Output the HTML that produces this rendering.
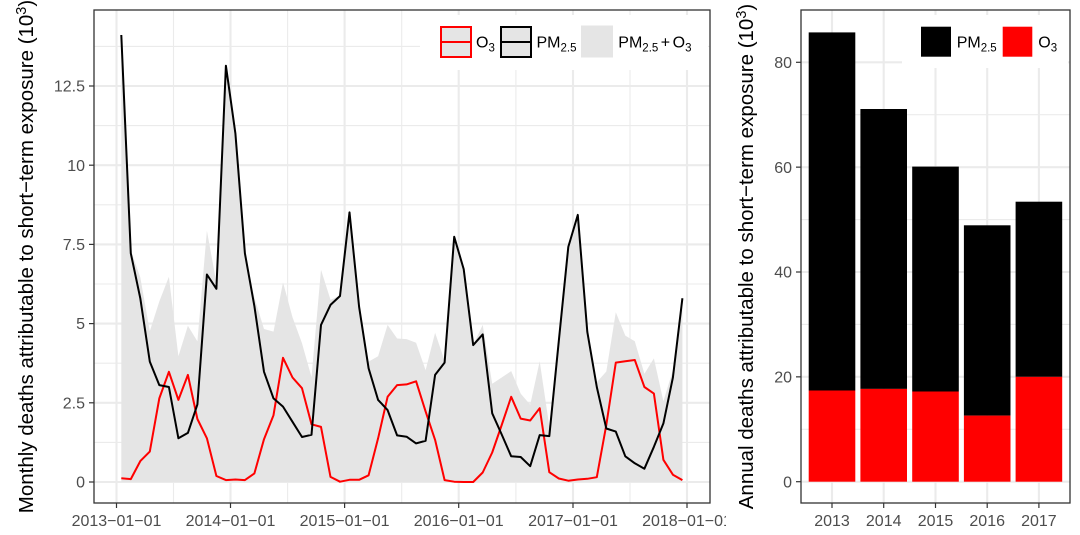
<!DOCTYPE html>
<html>
<head>
<meta charset="utf-8">
<style>
  html, body { margin: 0; padding: 0; background: #ffffff; }
  svg { display: block; }
  text { font-family: "Liberation Sans", Arial, sans-serif; }
</style>
</head>
<body>
<svg width="1080" height="535" viewBox="0 0 1080 535" xmlns="http://www.w3.org/2000/svg">
  <rect x="0" y="0" width="1080" height="535" fill="#ffffff"/>
  <defs>
    <clipPath id="leftclip"><rect x="0" y="0" width="726" height="535"/></clipPath>
    <clipPath id="lpanel"><rect x="94" y="10" width="616" height="493"/></clipPath>
    <clipPath id="rpanel"><rect x="801" y="10" width="269" height="493"/></clipPath>
  </defs>

  <!-- ================= LEFT PANEL ================= -->
  <g clip-path="url(#leftclip)">
    <g clip-path="url(#lpanel)">
      <rect x="94" y="10" width="616" height="493" fill="#ffffff"/>
      <!-- minor grid -->
      <g stroke="#ebebeb" stroke-width="1.1" fill="none">
        <line x1="94" x2="710" y1="442.4" y2="442.4"/>
        <line x1="94" x2="710" y1="363.2" y2="363.2"/>
        <line x1="94" x2="710" y1="284.0" y2="284.0"/>
        <line x1="94" x2="710" y1="204.8" y2="204.8"/>
        <line x1="94" x2="710" y1="125.6" y2="125.6"/>
        <line x1="94" x2="710" y1="46.4" y2="46.4"/>
        <line y1="10" y2="503" x1="173.5" x2="173.5"/>
        <line y1="10" y2="503" x1="287.6" x2="287.6"/>
        <line y1="10" y2="503" x1="401.7" x2="401.7"/>
        <line y1="10" y2="503" x1="515.9" x2="515.9"/>
        <line y1="10" y2="503" x1="630.0" x2="630.0"/>
      </g>
      <!-- major grid -->
      <g stroke="#ebebeb" stroke-width="2.1" fill="none">
        <line x1="94" x2="710" y1="482" y2="482"/>
        <line x1="94" x2="710" y1="402.8" y2="402.8"/>
        <line x1="94" x2="710" y1="323.6" y2="323.6"/>
        <line x1="94" x2="710" y1="244.4" y2="244.4"/>
        <line x1="94" x2="710" y1="165.2" y2="165.2"/>
        <line x1="94" x2="710" y1="86.0" y2="86.0"/>
        <line y1="10" y2="503" x1="116.5" x2="116.5"/>
        <line y1="10" y2="503" x1="230.5" x2="230.5"/>
        <line y1="10" y2="503" x1="344.6" x2="344.6"/>
        <line y1="10" y2="503" x1="458.7" x2="458.7"/>
        <line y1="10" y2="503" x1="573.0" x2="573.0"/>
        <line y1="10" y2="503" x1="687.0" x2="687.0"/>
      </g>

      <!-- sum area -->
      <polygon fill="#e5e5e5" stroke="none" points="121.3,482 121.3,31.2 130.8,250.4 140.3,277.4 149.8,331.2 159.3,301.5 168.9,276.8 178.4,356.2 187.9,325.8 197.4,341.4 206.9,230.8 216.4,282.8 225.9,63.8 235.4,131.0 244.9,251.4 254.4,297.6 264.0,329.0 273.5,331.6 283.0,282.4 292.5,317.3 302.0,343.2 311.5,377.1 321.0,269.8 330.5,299.8 340.0,295.7 349.5,210.2 359.1,304.6 368.6,361.6 378.1,356.2 387.6,324.9 397.1,338.5 406.6,339.1 416.1,342.7 425.6,370.2 435.1,332.8 444.6,360.7 454.2,236.5 463.7,269.1 473.2,345.1 482.7,324.9 492.2,383.8 501.7,377.5 511.2,371.1 520.7,393.6 530.2,404.7 539.7,361.3 549.3,426.3 558.8,337.5 568.3,245.6 577.8,212.4 587.3,328.6 596.8,382.2 606.3,371.5 615.8,312.2 625.3,335.6 634.8,341.3 644.4,373.7 653.9,358.4 663.4,401.2 672.9,370.2 682.4,296.4 682.4,482"/>

      <!-- O3 line -->
      <polyline fill="none" stroke="#ff0000" stroke-width="2" stroke-linejoin="round" points="121.3,478.2 130.8,479.1 140.3,461.1 149.8,451.6 159.3,398.4 168.9,371.8 178.4,399.9 187.9,374.9 197.4,419.0 206.9,438.3 216.4,476.0 225.9,480.1 235.4,479.5 244.9,480.1 254.4,473.4 264.0,439.2 273.5,415.2 283.0,357.8 292.5,377.5 302.0,388.2 311.5,424.3 321.0,426.9 330.5,476.9 340.0,481.7 349.5,479.8 359.1,479.8 368.6,475.3 378.1,438.3 387.6,396.8 397.1,385.1 406.6,384.4 416.1,381.3 425.6,411.4 435.1,439.9 444.6,480.1 454.2,481.7 463.7,482 473.2,482 482.7,472.5 492.2,452.5 501.7,425.0 511.2,396.8 520.7,418.6 530.2,420.5 539.7,408.2 549.3,472.2 558.8,478.5 568.3,480.7 577.8,479.5 587.3,478.8 596.8,477.2 606.3,425.0 615.8,362.6 625.3,361.3 634.8,360.0 644.4,387.0 653.9,393.6 663.4,459.8 672.9,474.7 682.4,480.1"/>

      <!-- PM2.5 line -->
      <polyline fill="none" stroke="#000000" stroke-width="2" stroke-linejoin="round" points="121.3,35.0 130.8,253.3 140.3,298.3 149.8,361.6 159.3,385.1 168.9,387.0 178.4,438.3 187.9,432.9 197.4,404.4 206.9,274.5 216.4,288.8 225.9,65.7 235.4,133.5 244.9,253.3 254.4,306.2 264.0,371.8 273.5,398.4 283.0,406.6 292.5,421.8 302.0,437.0 311.5,434.8 321.0,324.9 330.5,304.9 340.0,296.0 349.5,212.4 359.1,306.8 368.6,368.3 378.1,399.9 387.6,410.1 397.1,435.4 406.6,436.7 416.1,443.4 425.6,440.8 435.1,374.9 444.6,362.6 454.2,236.8 463.7,269.1 473.2,345.1 482.7,334.4 492.2,413.3 501.7,434.5 511.2,456.3 520.7,457.0 530.2,466.2 539.7,435.1 549.3,436.1 558.8,341.0 568.3,246.9 577.8,214.9 587.3,331.8 596.8,387.0 606.3,428.5 615.8,431.6 625.3,456.3 634.8,463.3 644.4,468.7 653.9,446.8 663.4,423.4 672.9,377.5 682.4,298.3"/>

      <!-- legend -->
      <rect x="420" y="15" width="288" height="55" fill="#ffffff"/>
      <rect x="441" y="27" width="30" height="30" fill="#e5e5e5" stroke="#ff0000" stroke-width="2"/>
      <line x1="441" x2="471" y1="42" y2="42" stroke="#ff0000" stroke-width="2"/>
      <rect x="501" y="27" width="30" height="30" fill="#e5e5e5" stroke="#000000" stroke-width="2"/>
      <line x1="501" x2="531" y1="42" y2="42" stroke="#000000" stroke-width="2"/>
      <rect x="581" y="25.5" width="32" height="32" fill="#e5e5e5"/>
      <text x="476" y="47.5" font-size="16" fill="#000">O<tspan font-size="11.5" dy="4">3</tspan></text>
      <text x="536.5" y="47.5" font-size="16" fill="#000">PM<tspan font-size="11.5" dy="4">2.5</tspan></text>
      <text x="618.3" y="47.5" font-size="16" fill="#000">PM<tspan font-size="11.5" dy="4">2.5</tspan><tspan dy="-4" dx="2.5">+</tspan><tspan dx="2.5">O</tspan><tspan font-size="11.5" dy="4">3</tspan></text>
    </g>

    <!-- panel border -->
    <rect x="94" y="10" width="616" height="493" fill="none" stroke="#333333" stroke-width="1.3"/>

    <!-- ticks -->
    <g stroke="#333333" stroke-width="1.2">
      <line x1="89" x2="94" y1="482" y2="482"/>
      <line x1="89" x2="94" y1="402.8" y2="402.8"/>
      <line x1="89" x2="94" y1="323.6" y2="323.6"/>
      <line x1="89" x2="94" y1="244.4" y2="244.4"/>
      <line x1="89" x2="94" y1="165.2" y2="165.2"/>
      <line x1="89" x2="94" y1="86.0" y2="86.0"/>
      <line y1="503" y2="508" x1="116.5" x2="116.5"/>
      <line y1="503" y2="508" x1="230.5" x2="230.5"/>
      <line y1="503" y2="508" x1="344.6" x2="344.6"/>
      <line y1="503" y2="508" x1="458.7" x2="458.7"/>
      <line y1="503" y2="508" x1="573.0" x2="573.0"/>
      <line y1="503" y2="508" x1="687.0" x2="687.0"/>
    </g>
    <g font-size="16" fill="#4d4d4d" text-anchor="end">
      <text x="85" y="487.6">0</text>
      <text x="85" y="408.4">2.5</text>
      <text x="85" y="329.2">5</text>
      <text x="85" y="250.0">7.5</text>
      <text x="85" y="170.8">10</text>
      <text x="85" y="91.6">12.5</text>
    </g>
    <g font-size="16" fill="#4d4d4d" text-anchor="middle">
      <text x="116.5" y="526">2013−01−01</text>
      <text x="230.5" y="526">2014−01−01</text>
      <text x="344.6" y="526">2015−01−01</text>
      <text x="458.7" y="526">2016−01−01</text>
      <text x="573.0" y="526">2017−01−01</text>
      <text x="687.0" y="526">2018−01−01</text>
    </g>
    <!-- y title -->
    <text transform="translate(33,256.5) rotate(-90)" text-anchor="middle" font-size="20.5" fill="#000">Monthly deaths attributable to short−term exposure (10<tspan font-size="14.5" dy="-7">3</tspan><tspan dy="7">)</tspan></text>
  </g>

  <!-- ================= RIGHT PANEL ================= -->
  <g clip-path="url(#rpanel)">
    <rect x="801" y="10" width="269" height="493" fill="#ffffff"/>
    <g stroke="#ebebeb" stroke-width="1.1">
      <line x1="801" x2="1070" y1="429.3" y2="429.3"/>
      <line x1="801" x2="1070" y1="324.4" y2="324.4"/>
      <line x1="801" x2="1070" y1="219.6" y2="219.6"/>
      <line x1="801" x2="1070" y1="114.7" y2="114.7"/>
    </g>
    <g stroke="#ebebeb" stroke-width="2.1">
      <line x1="801" x2="1070" y1="481.7" y2="481.7"/>
      <line x1="801" x2="1070" y1="376.85" y2="376.85"/>
      <line x1="801" x2="1070" y1="272.0" y2="272.0"/>
      <line x1="801" x2="1070" y1="167.15" y2="167.15"/>
      <line x1="801" x2="1070" y1="62.3" y2="62.3"/>
      <line y1="10" y2="503" x1="832.0" x2="832.0"/>
      <line y1="10" y2="503" x1="883.7" x2="883.7"/>
      <line y1="10" y2="503" x1="935.5" x2="935.5"/>
      <line y1="10" y2="503" x1="987.2" x2="987.2"/>
      <line y1="10" y2="503" x1="1038.9" x2="1038.9"/>
    </g>
    <g fill="#000000">
      <rect x="808.7" y="32.4" width="46.6" height="358.1"/>
      <rect x="860.4" y="109.0" width="46.6" height="279.9"/>
      <rect x="912.2" y="166.6" width="46.6" height="224.9"/>
      <rect x="963.9" y="225.3" width="46.6" height="190.3"/>
      <rect x="1015.6" y="201.7" width="46.6" height="175.15"/>
    </g>
    <g fill="#ff0000">
      <rect x="808.7" y="390.5" width="46.6" height="91.2"/>
      <rect x="860.4" y="388.9" width="46.6" height="92.8"/>
      <rect x="912.2" y="391.5" width="46.6" height="90.2"/>
      <rect x="963.9" y="415.6" width="46.6" height="66.1"/>
      <rect x="1015.6" y="376.85" width="46.6" height="104.85"/>
    </g>
    <rect x="902" y="15" width="166" height="53" fill="#ffffff"/>
    <rect x="921" y="26.7" width="30" height="30" fill="#000000"/>
    <rect x="1002.7" y="26.7" width="29.6" height="30" fill="#ff0000"/>
    <text x="956.7" y="47.5" font-size="16" fill="#000">PM<tspan font-size="11.5" dy="4">2.5</tspan></text>
    <text x="1038.3" y="47.5" font-size="16" fill="#000">O<tspan font-size="11.5" dy="4">3</tspan></text>
  </g>
  <rect x="801" y="10" width="269" height="493" fill="none" stroke="#333333" stroke-width="1.3"/>
  <g stroke="#333333" stroke-width="1.2">
    <line x1="796" x2="801" y1="481.7" y2="481.7"/>
    <line x1="796" x2="801" y1="376.85" y2="376.85"/>
    <line x1="796" x2="801" y1="272.0" y2="272.0"/>
    <line x1="796" x2="801" y1="167.15" y2="167.15"/>
    <line x1="796" x2="801" y1="62.3" y2="62.3"/>
    <line y1="503" y2="508" x1="832.0" x2="832.0"/>
    <line y1="503" y2="508" x1="883.7" x2="883.7"/>
    <line y1="503" y2="508" x1="935.5" x2="935.5"/>
    <line y1="503" y2="508" x1="987.2" x2="987.2"/>
    <line y1="503" y2="508" x1="1038.9" x2="1038.9"/>
  </g>
  <g font-size="16" fill="#4d4d4d" text-anchor="end">
    <text x="792" y="487.3">0</text>
    <text x="792" y="382.45">20</text>
    <text x="792" y="277.6">40</text>
    <text x="792" y="172.75">60</text>
    <text x="792" y="67.9">80</text>
  </g>
  <g font-size="16" fill="#4d4d4d" text-anchor="middle">
    <text x="832.0" y="526">2013</text>
    <text x="883.7" y="526">2014</text>
    <text x="935.5" y="526">2015</text>
    <text x="987.2" y="526">2016</text>
    <text x="1038.9" y="526">2017</text>
  </g>
  <text transform="translate(753,256.5) rotate(-90)" text-anchor="middle" font-size="20.5" fill="#000">Annual deaths attributable to short−term exposure (10<tspan font-size="14.5" dy="-7">3</tspan><tspan dy="7">)</tspan></text>
</svg>
</body>
</html>
